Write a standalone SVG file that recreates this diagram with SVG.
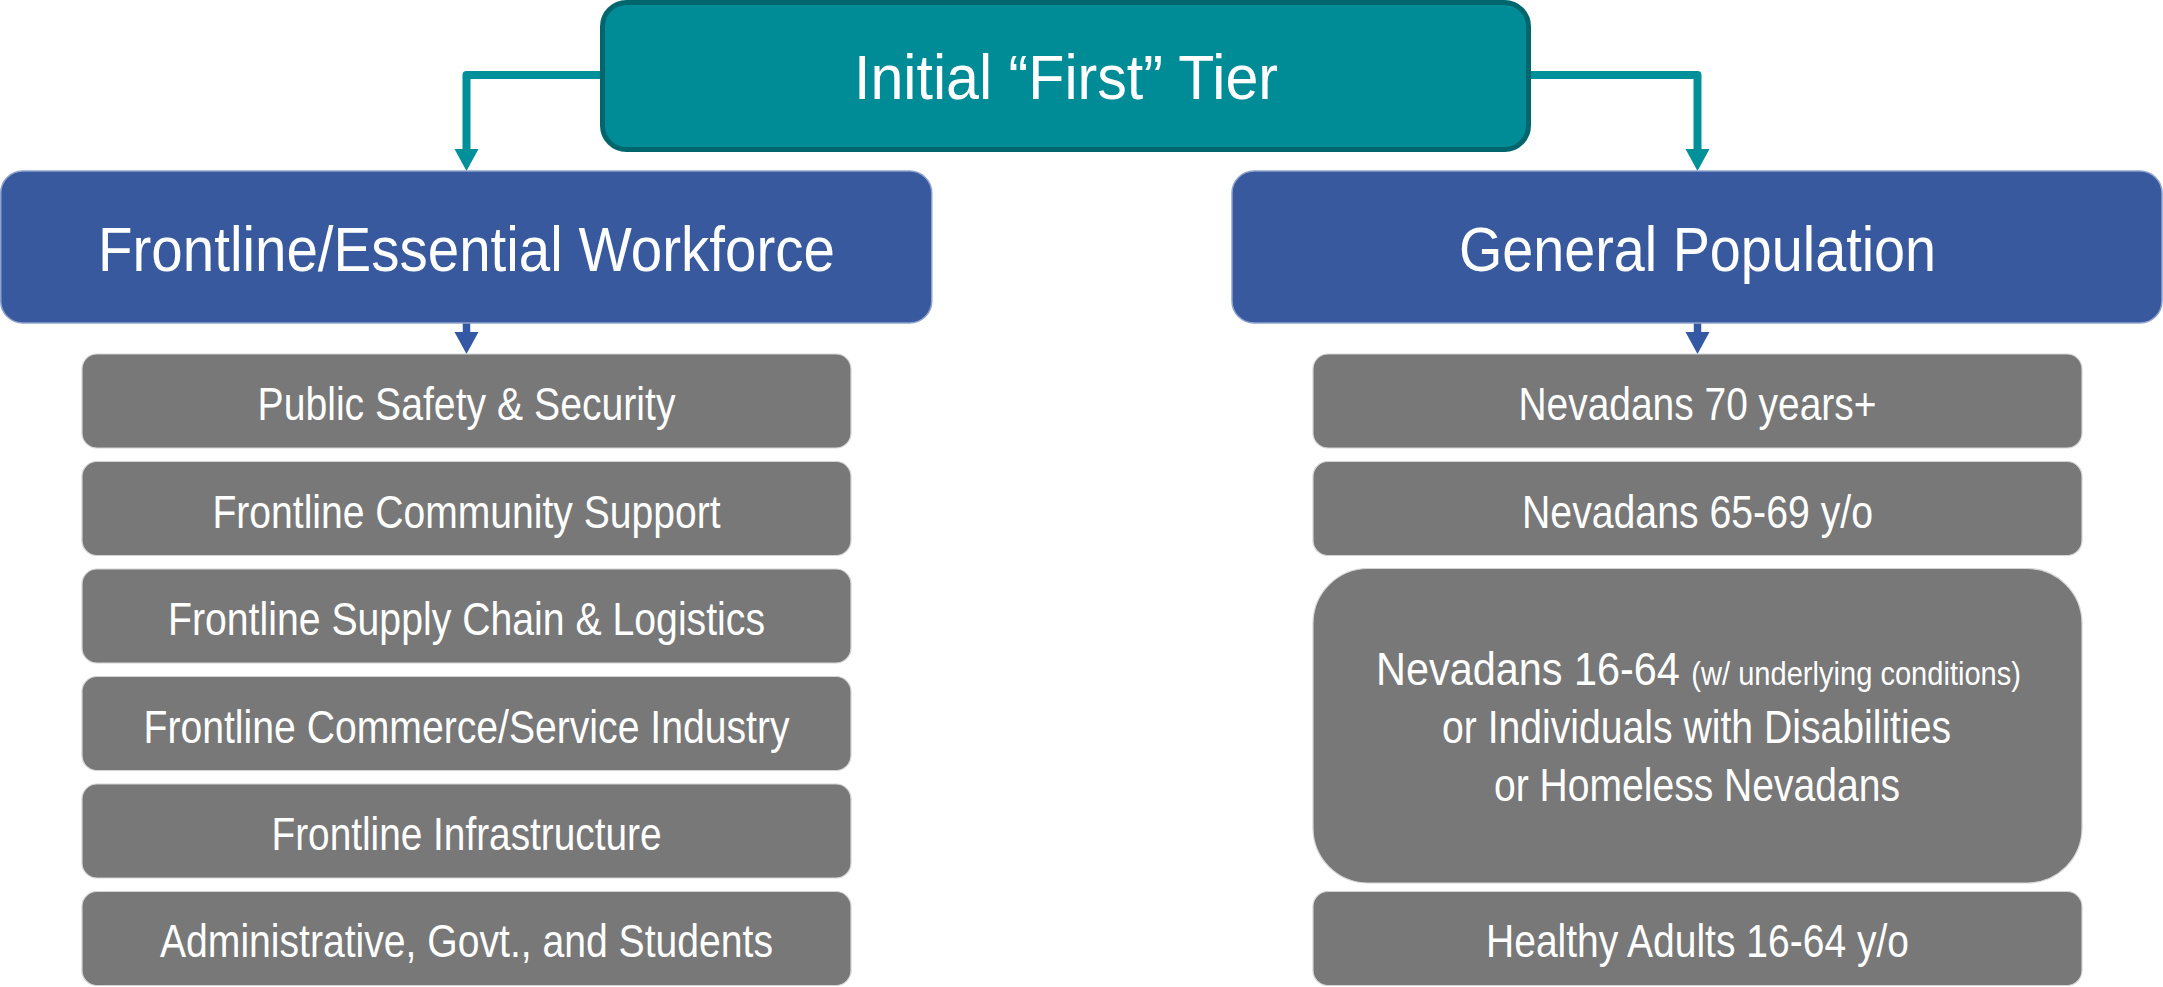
<svg xmlns="http://www.w3.org/2000/svg" width="2163" height="987" viewBox="0 0 2163 987">
<style>
  .txt { font-family: "Liberation Sans Narrow", "Liberation Sans", Arial, sans-serif; fill: #ffffff; }
  .hdr { font-size: 63px; }
  .item { font-size: 47px; }
  .small { font-size: 33px; }
  .teal { fill: #008C96; stroke: #00666D; stroke-width: 5; }
  .blue { fill: #38599E; stroke: #8EA2CC; stroke-width: 1.5; }
  .gray { fill: #787878; stroke: #D4D4D4; stroke-width: 1.2; }
  .conn-teal { fill: none; stroke: #00909A; stroke-width: 8; stroke-linejoin: round; }
  .conn-blue { fill: none; stroke: #3558A5; stroke-width: 7.5; }
  .head-teal { fill: #00909A; }
  .head-blue { fill: #3558A5; }
</style>

<g id="connectors">
  <path class="conn-teal" d="M602,75 L466.5,75 L466.5,150"/>
  <path class="head-teal" d="M454.5,149 L478.5,149 L466.5,171 Z"/>
  <path class="conn-teal" d="M1530,75 L1697.5,75 L1697.5,150"/>
  <path class="head-teal" d="M1685.5,149 L1709.5,149 L1697.5,171 Z"/>
  <path class="conn-blue" d="M466.5,323 L466.5,333"/>
  <path class="head-blue" d="M454.5,332 L478.5,332 L466.5,354 Z"/>
  <path class="conn-blue" d="M1697.5,323 L1697.5,333"/>
  <path class="head-blue" d="M1685.5,332 L1709.5,332 L1697.5,354 Z"/>
</g>

<g id="tier">
  <rect class="teal" x="602.5" y="2.5" width="926" height="147" rx="24" ry="24"/>
  <text class="txt hdr" x="1066" y="99" text-anchor="middle" textLength="424" lengthAdjust="spacingAndGlyphs">Initial “First” Tier</text>
</g>

<g id="frontline">
  <rect class="blue" x="0.75" y="171" width="931" height="152" rx="22" ry="22"/>
  <text class="txt hdr" x="466.5" y="271" text-anchor="middle" textLength="737" lengthAdjust="spacingAndGlyphs">Frontline/Essential Workforce</text>
</g>

<g id="general">
  <rect class="blue" x="1232" y="171" width="930" height="152" rx="22" ry="22"/>
  <text class="txt hdr" x="1697.5" y="271" text-anchor="middle" textLength="477" lengthAdjust="spacingAndGlyphs">General Population</text>
</g>

<g id="left-1">
  <rect class="gray" x="82" y="354" width="769" height="94" rx="15" ry="15"/>
  <text class="txt item" x="466.5" y="420" text-anchor="middle" textLength="418" lengthAdjust="spacingAndGlyphs">Public Safety &amp; Security</text>
</g>
<g id="left-2">
  <rect class="gray" x="82" y="461.5" width="769" height="94" rx="15" ry="15"/>
  <text class="txt item" x="466.5" y="527.5" text-anchor="middle" textLength="508" lengthAdjust="spacingAndGlyphs">Frontline Community Support</text>
</g>
<g id="left-3">
  <rect class="gray" x="82" y="569" width="769" height="94" rx="15" ry="15"/>
  <text class="txt item" x="466.5" y="635" text-anchor="middle" textLength="597" lengthAdjust="spacingAndGlyphs">Frontline Supply Chain &amp; Logistics</text>
</g>
<g id="left-4">
  <rect class="gray" x="82" y="676.5" width="769" height="94" rx="15" ry="15"/>
  <text class="txt item" x="466.5" y="742.5" text-anchor="middle" textLength="646" lengthAdjust="spacingAndGlyphs">Frontline Commerce/Service Industry</text>
</g>
<g id="left-5">
  <rect class="gray" x="82" y="784" width="769" height="94" rx="15" ry="15"/>
  <text class="txt item" x="466.5" y="850" text-anchor="middle" textLength="390" lengthAdjust="spacingAndGlyphs">Frontline Infrastructure</text>
</g>
<g id="left-6">
  <rect class="gray" x="82" y="891.5" width="769" height="94" rx="15" ry="15"/>
  <text class="txt item" x="466.5" y="957" text-anchor="middle" textLength="613" lengthAdjust="spacingAndGlyphs">Administrative, Govt., and Students</text>
</g>

<g id="right-1">
  <rect class="gray" x="1313" y="354" width="769" height="94" rx="15" ry="15"/>
  <text class="txt item" x="1697.5" y="420" text-anchor="middle" textLength="358" lengthAdjust="spacingAndGlyphs">Nevadans 70 years+</text>
</g>
<g id="right-2">
  <rect class="gray" x="1313" y="461.5" width="769" height="94" rx="15" ry="15"/>
  <text class="txt item" x="1697.5" y="527.5" text-anchor="middle" textLength="351" lengthAdjust="spacingAndGlyphs">Nevadans 65-69 y/o</text>
</g>
<g id="right-3">
  <rect class="gray" x="1313" y="568.5" width="769" height="314.5" rx="55" ry="55"/>
  <text class="txt item" x="1376" y="685" textLength="645" lengthAdjust="spacingAndGlyphs">Nevadans 16-64 <tspan class="small">(w/ underlying conditions)</tspan></text>
  <text class="txt item" x="1696.5" y="743" text-anchor="middle" textLength="509" lengthAdjust="spacingAndGlyphs">or Individuals with Disabilities</text>
  <text class="txt item" x="1697" y="801" text-anchor="middle" textLength="406" lengthAdjust="spacingAndGlyphs">or Homeless Nevadans</text>
</g>
<g id="right-4">
  <rect class="gray" x="1313" y="891.5" width="769" height="94" rx="15" ry="15"/>
  <text class="txt item" x="1697.5" y="957" text-anchor="middle" textLength="423" lengthAdjust="spacingAndGlyphs">Healthy Adults 16-64 y/o</text>
</g>
</svg>
